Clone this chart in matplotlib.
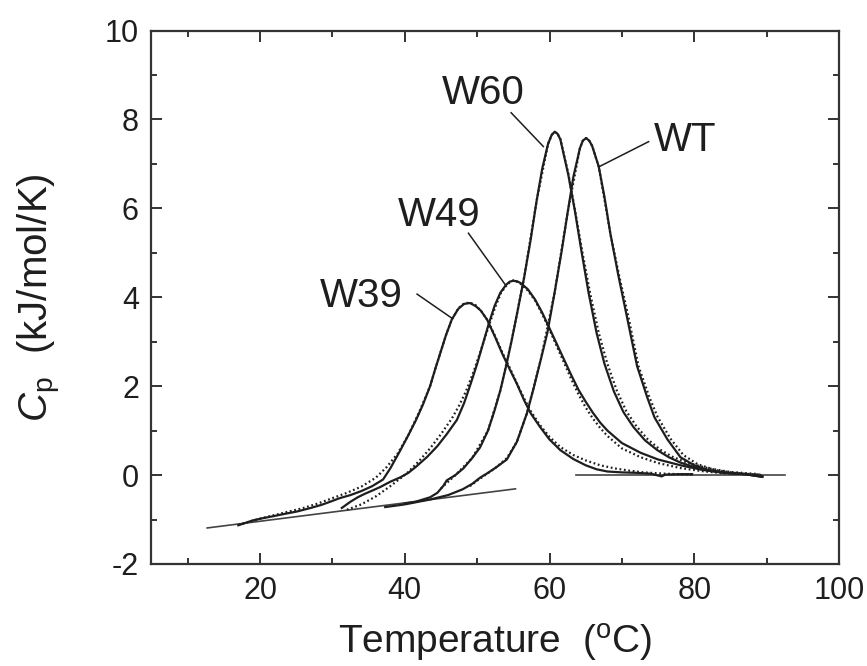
import matplotlib
matplotlib.use("Agg")
import matplotlib.pyplot as plt
from matplotlib.ticker import MultipleLocator

plt.rcParams['font.family'] = ['Liberation Sans', 'DejaVu Sans']
plt.rcParams['mathtext.fontset'] = 'custom'
plt.rcParams['mathtext.rm'] = 'Liberation Sans'
plt.rcParams['mathtext.it'] = 'Liberation Sans:italic'
plt.rcParams['axes.unicode_minus'] = False

# measured Cp traces (temperature, Cp)
w39_t = [17.0, 19.0, 20.4, 22.0, 23.5, 25.1, 27.0, 28.5, 29.7, 31.0, 32.5, 34.0, 35.5, 37.0, 38.0,
         39.4, 40.5, 41.5, 42.5, 43.5, 44.2, 44.9, 45.7, 46.5, 47.4, 48.2, 49.0, 49.8, 50.5, 51.4, 52.5,
         53.5, 54.5, 55.5, 56.5, 57.4, 58.7, 60.0, 61.5, 63.3, 65.0, 66.5, 68.0, 70.0, 72.0, 74.0,
         75.5, 76.0, 78.0, 79.7]
w39_cp = [-1.13, -1.02, -0.97, -0.92, -0.87, -0.82, -0.74, -0.67, -0.60, -0.52, -0.45, -0.36, -0.25, -0.10, 0.15,
          0.56, 0.90, 1.22, 1.58, 2.00, 2.38, 2.74, 3.15, 3.50, 3.74, 3.85, 3.87, 3.80, 3.70, 3.49, 3.10,
          2.72, 2.38, 2.05, 1.68, 1.39, 1.08, 0.80, 0.56, 0.36, 0.22, 0.13, 0.08, 0.06, 0.05, 0.03,
          -0.03, 0.01, 0.02, 0.02]

w49_t = [31.3, 32.5, 33.5, 34.5, 35.5, 36.6, 38.0, 39.4, 40.5, 41.5, 43.1, 44.5, 45.8, 47.2, 48.2,
         49.1, 50.0, 50.8, 51.6, 52.4, 53.2, 54.0, 54.5, 55.0, 55.5, 56.0, 57.0, 58.0, 59.0, 60.0, 61.0, 62.0,
         63.0, 64.0, 65.0, 66.0, 67.0, 68.0, 70.0, 72.6, 75.0, 78.1, 81.0, 84.0, 87.0, 89.4]
w49_cp = [-0.74, -0.60, -0.50, -0.42, -0.35, -0.27, -0.15, -0.05, 0.05, 0.18, 0.41, 0.65, 0.92, 1.24, 1.62,
          2.05, 2.50, 2.95, 3.40, 3.80, 4.10, 4.28, 4.35, 4.37, 4.36, 4.32, 4.18, 3.95, 3.65, 3.30, 2.95, 2.60,
          2.25, 1.92, 1.65, 1.40, 1.18, 1.00, 0.72, 0.50, 0.35, 0.22, 0.12, 0.05, 0.02, -0.04]

w60_t = [40.0, 41.5, 42.5, 43.5, 44.5, 45.3, 45.8, 47.0, 48.1, 49.3, 50.4, 51.5, 52.4, 53.2, 54.0,
         54.8, 55.6, 56.5, 57.4, 58.2, 59.0, 59.8, 60.3, 60.7, 61.1, 61.5, 62.6, 63.5, 64.4, 65.4, 66.5, 67.6,
         68.9, 70.2, 71.6, 73.2, 74.9, 76.5, 78.1, 80.0, 82.0, 84.5, 87.0, 89.4]
w60_cp = [-0.64, -0.60, -0.55, -0.50, -0.40, -0.25, -0.12, 0.00, 0.15, 0.38, 0.62, 1.00, 1.45, 1.90, 2.45,
          3.05, 3.70, 4.45, 5.30, 6.15, 6.90, 7.45, 7.65, 7.72, 7.68, 7.55, 6.75, 5.95, 5.05, 4.10, 3.20, 2.50,
          1.88, 1.42, 1.08, 0.78, 0.56, 0.40, 0.28, 0.18, 0.10, 0.05, 0.02, -0.04]

wt_t = [37.3, 40.0, 43.5, 46.0, 48.0, 49.3, 50.4, 51.5, 52.6, 54.1, 55.5, 56.9, 57.8, 58.8, 59.7,
        60.7, 61.7, 62.5, 63.3, 64.2, 64.6, 65.05, 65.5, 65.9, 66.8, 67.6, 68.4, 69.5, 70.7, 72.1, 73.5, 74.5,
        76.3, 78.1, 80.0, 81.8, 84.0, 87.0, 89.4]
wt_cp = [-0.72, -0.66, -0.55, -0.45, -0.32, -0.20, -0.06, 0.05, 0.17, 0.35, 0.75, 1.40, 1.95, 2.60, 3.20,
         4.10, 5.06, 5.90, 6.71, 7.35, 7.52, 7.58, 7.52, 7.40, 6.94, 6.25, 5.44, 4.50, 3.56, 2.45, 1.75, 1.30,
         0.80, 0.40, 0.22, 0.12, 0.06, 0.02, -0.03]

# model fits (dotted)
w39_fit_t = [17.0, 20.0, 23.0, 26.0, 28.0, 30.0, 32.0, 34.0, 36.0, 37.5, 39.0, 40.5, 42.0, 43.5, 44.2, 44.9,
             45.7, 46.5, 47.4, 48.2, 49.0, 49.8, 50.6, 51.4, 52.5, 53.5, 54.6, 55.5, 56.5, 57.4, 58.7,
             60.0, 61.5, 63.3, 65.0, 67.0, 69.0, 71.0, 73.0, 76.0, 79.7]
w39_fit_cp = [-1.12, -0.98, -0.86, -0.74, -0.64, -0.52, -0.40, -0.26, -0.06, 0.18, 0.48, 0.90, 1.42, 2.00, 2.38, 2.74,
              3.15, 3.50, 3.75, 3.86, 3.88, 3.82, 3.68, 3.49, 3.12, 2.75, 2.38, 2.06, 1.72, 1.44, 1.12,
              0.86, 0.63, 0.45, 0.33, 0.22, 0.15, 0.10, 0.06, 0.03, 0.01]

w49_fit_t = [32.0, 34.0, 36.0, 38.0, 40.3, 42.0, 43.5, 45.0, 46.5, 47.5, 48.5, 49.5, 50.5, 51.5, 52.5,
             53.3, 54.2, 55.0, 55.9, 57.0, 58.0, 59.0, 60.0, 61.0, 62.0, 63.0, 64.0, 65.0, 66.0, 67.0,
             68.0, 70.0, 72.6, 75.0, 78.0, 81.0, 84.0, 87.0, 89.4]
w49_fit_cp = [-0.78, -0.66, -0.48, -0.25, 0.04, 0.32, 0.60, 0.92, 1.27, 1.56, 1.90, 2.32, 2.80, 3.30, 3.78,
              4.10, 4.30, 4.38, 4.32, 4.15, 3.93, 3.62, 3.27, 2.90, 2.53, 2.16, 1.82, 1.52, 1.27, 1.06,
              0.88, 0.60, 0.40, 0.27, 0.16, 0.09, 0.04, 0.02, 0.00]

w60_fit_t = [45.0, 47.0, 49.3, 51.5, 53.2, 54.8, 56.5, 58.2, 59.8, 60.3, 60.7, 61.1, 61.5, 62.6, 63.5, 64.5, 65.6,
             66.8, 68.0, 69.3, 70.6, 72.0, 73.6, 75.3, 77.0, 79.0, 82.0, 85.0, 89.0]
w60_fit_cp = [-0.30, 0.00, 0.38, 1.00, 1.90, 3.05, 4.45, 6.15, 7.45, 7.65, 7.72, 7.68, 7.56, 6.78, 5.98, 5.05, 4.10,
              3.20, 2.50, 1.90, 1.44, 1.10, 0.80, 0.57, 0.41, 0.28, 0.15, 0.07, 0.02]

wt_fit_t = [49.0, 50.4, 52.6, 54.1, 55.5, 56.9, 58.8, 60.7, 62.5, 64.2, 64.6, 65.05, 65.5, 65.9, 66.8, 68.4, 69.6,
            70.9, 72.3, 73.8, 74.9, 76.7, 78.5, 80.5, 83.0, 86.0, 89.0]
wt_fit_cp = [-0.25, -0.08, 0.17, 0.38, 0.75, 1.40, 2.60, 4.10, 5.90, 7.35, 7.52, 7.58, 7.52, 7.40, 6.94, 5.44, 4.50,
             3.56, 2.45, 1.75, 1.32, 0.82, 0.45, 0.24, 0.11, 0.04, 0.01]

# linear baselines
pre_t = [12.7, 55.3]
pre_cp = [-1.19, -0.31]
post_t = [63.7, 92.6]
post_cp = [0.0, 0.0]

# curve labels: name, text position, leader start, leader end
labels = ['W39', 'W49', 'W60', 'WT']
label_xy = [(34.0, 4.03), (44.8, 5.86), (50.8, 8.59), (78.8, 7.54)]
leader_from = [(41.7, 4.07), (48.8, 5.44), (54.7, 8.15), (73.7, 7.50)]
leader_to = [(46.5, 3.53), (53.9, 4.28), (59.15, 7.39), (66.9, 6.94)]

ink = '#1e1e1e'

fig = plt.figure(figsize=(8.67, 6.66), dpi=100)
ax = fig.add_axes([0.1747, 0.1532, 0.7930, 0.8010])

ax.plot(pre_t, pre_cp, color='#444444', lw=1.2)
ax.plot(post_t, post_cp, color='#444444', lw=1.2)

for t, cp in [(w39_fit_t, w39_fit_cp), (w49_fit_t, w49_fit_cp),
              (w60_fit_t, w60_fit_cp), (wt_fit_t, wt_fit_cp)]:
    ax.plot(t, cp, color=ink, lw=1.6, linestyle=(0, (0.8, 1.2)))

for t, cp in [(w39_t, w39_cp), (w49_t, w49_cp), (w60_t, w60_cp), (wt_t, wt_cp)]:
    ax.plot(t, cp, color=ink, lw=1.6)

for name, xy, p0, p1 in zip(labels, label_xy, leader_from, leader_to):
    ax.text(xy[0], xy[1], name, fontsize=29, ha='center', va='center', color=ink)
    ax.plot([p0[0], p1[0]], [p0[1], p1[1]], color=ink, lw=1.1)

ax.set_xlim(5, 100)
ax.set_ylim(-2, 10)
ax.xaxis.set_minor_locator(MultipleLocator(10))
ax.yaxis.set_minor_locator(MultipleLocator(1))
ax.set_xticks([20, 40, 60, 80, 100])
ax.set_yticks([-2, 0, 2, 4, 6, 8, 10])

ax.tick_params(which='both', direction='in', top=True, right=True, width=1.4, color='#333333',
               labelsize=22, labelcolor=ink)
ax.tick_params(which='major', length=8, pad=9)
ax.tick_params(which='minor', length=4.5)
for sp in ax.spines.values():
    sp.set_linewidth(1.6)
    sp.set_color('#333333')

ax.set_xlabel('Temperature  ($^{\\mathrm{o}}$C)', fontsize=28, color=ink, labelpad=11)
ax.set_ylabel('$C_{\\mathrm{p}}$  (kJ/mol/K)', fontsize=29, color=ink, labelpad=30)

fig.savefig('out.png', dpi=100)
